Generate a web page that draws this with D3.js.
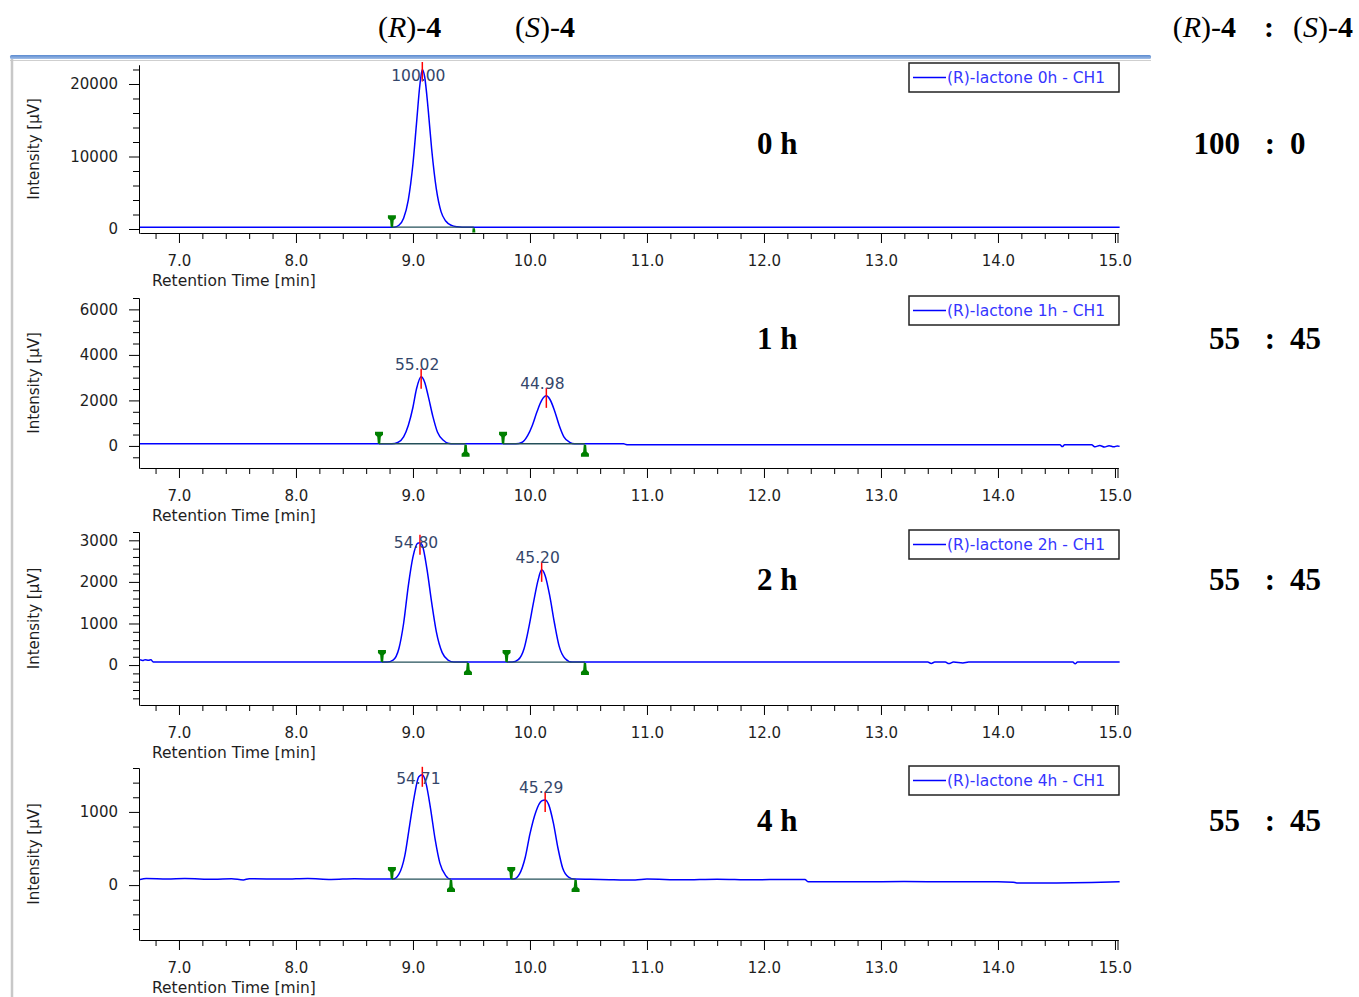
<!DOCTYPE html>
<html>
<head>
<meta charset="utf-8">
<script src="https://cdn.jsdelivr.net/npm/d3@7"></script>
<style>
  body { margin: 0; background: #fff; }
  svg { display: block; }
</style>
</head>
<body>
<svg id="chart" width="1359" height="997"></svg>
<script>
// values
const hours = ["0 h", "1 h", "2 h", "4 h"];
const legendNames = ["(R)-lactone 0h - CH1", "(R)-lactone 1h - CH1", "(R)-lactone 2h - CH1", "(R)-lactone 4h - CH1"];
const ratioR = [100, 55, 55, 55];
const ratioS = [0, 45, 45, 45];

const xMajorTicks = [7, 8, 9, 10, 11, 12, 13, 14, 15];
const yDomains = [[-550, 22620], [-970, 6500], [-960, 3200], [-750, 1600]];
const yMajorStep = [10000, 2000, 1000, 1000];
const yMinorStep = [2000, 500, 200, 200];

// [retention time (min), intensity (µV)]
const trace0h = [
  [6.667, 250], [8.84, 250], [8.88, 520], [8.92, 1500], [8.96, 4000], [9.00, 9000], [9.03, 14500],
  [9.06, 20000], [9.08, 22000], [9.10, 21000], [9.13, 16500], [9.16, 11000], [9.20, 5500],
  [9.24, 2400], [9.28, 1100], [9.33, 500], [9.38, 300], [9.42, 250], [15.04, 250]
];
const trace1h = [
  [6.667, 95], [8.82, 95], [8.87, 150], [8.92, 400], [8.96, 900], [9.00, 1700], [9.03, 2500],
  [9.07, 3040], [9.10, 2800], [9.13, 2200], [9.17, 1300], [9.21, 600], [9.26, 250], [9.30, 120],
  [9.35, 95], [9.88, 95], [9.93, 150], [9.98, 450], [10.02, 900], [10.06, 1500], [10.10, 2000],
  [10.14, 2200], [10.17, 2050], [10.21, 1550], [10.25, 900], [10.29, 400], [10.34, 160], [10.38, 95],
  [10.80, 95], [10.82, 60], [10.84, 50], [14.53, 50], [14.55, -30], [14.57, 50], [14.80, 50],
  [14.83, -40], [14.87, 20], [14.91, -50], [14.95, 10], [14.99, -40], [15.02, 0], [15.04, -20]
];
const trace2h = [
  [6.667, 130], [6.69, 110], [6.71, 130], [6.74, 115], [6.76, 130], [6.78, 75], [8.78, 72],
  [8.83, 120], [8.88, 400], [8.92, 1000], [8.96, 1900], [9.00, 2600], [9.04, 2930], [9.06, 2940],
  [9.08, 2880], [9.12, 2300], [9.16, 1500], [9.20, 800], [9.25, 300], [9.30, 120], [9.35, 72],
  [9.85, 72], [9.90, 130], [9.95, 400], [9.99, 900], [10.03, 1500], [10.07, 2050], [10.10, 2290],
  [10.13, 2150], [10.17, 1650], [10.21, 1000], [10.25, 450], [10.30, 160], [10.36, 72],
  [13.40, 72], [13.43, 40], [13.46, 72], [13.55, 72], [13.58, 35], [13.62, 72], [13.70, 50],
  [13.75, 72], [14.64, 72], [14.66, 30], [14.68, 72], [15.04, 72]
];
const trace4h = [
  [6.667, 75], [6.72, 90], [6.9, 85], [7.05, 90], [7.3, 80], [7.45, 88], [7.55, 70], [7.6, 88],
  [7.9, 82], [8.1, 90], [8.3, 78], [8.5, 88], [8.7, 82], [8.83, 82], [8.88, 150], [8.93, 400],
  [8.97, 800], [9.01, 1200], [9.05, 1480], [9.08, 1507], [9.11, 1400], [9.15, 1050], [9.19, 620],
  [9.23, 300], [9.28, 130], [9.32, 82], [9.86, 82], [9.91, 150], [9.96, 380], [10.00, 700],
  [10.05, 1000], [10.10, 1150], [10.13, 1164], [10.16, 1100], [10.20, 850], [10.24, 500],
  [10.28, 230], [10.33, 110], [10.38, 82], [10.6, 78], [10.9, 70], [11.0, 82], [11.3, 72],
  [11.6, 80], [11.9, 72], [12.2, 78], [12.35, 75], [12.38, 45], [12.8, 45], [13.2, 48], [13.6, 45],
  [14.0, 45], [14.13, 40], [14.16, 30], [14.5, 30], [14.8, 35], [15.04, 45]
];
const traces = [trace0h, trace1h, trace2h, trace4h];

const peakTimes = [[9.08], [9.07, 10.14], [9.06, 10.10], [9.08, 10.13]];
const peakAreas = [["100.00"], ["55.02", "44.98"], ["54.80", "45.20"], ["54.71", "45.29"]];
const peakStarts = [[8.82], [8.71, 9.77], [8.735, 9.80], [8.82, 9.84]];
const peakEnds = [[9.52], [9.45, 10.47], [9.47, 10.47], [9.325, 10.39]];
const baselineLevel = [250, 95, 72, 82];

// layout
const axisTop = [65, 298, 532, 768];
const axisBottom = [233, 468, 705, 940];
const hourLabelY = [154, 349, 590, 831];
const uiFont = '"DejaVu Sans", Verdana, sans-serif';
const serif = '"Liberation Serif", "Times New Roman", serif';

const svg = d3.select("#chart");

// window frame
const grad = svg.append("defs").append("linearGradient")
  .attr("id", "bar").attr("x1", 0).attr("x2", 0).attr("y1", 0).attr("y2", 1);
grad.append("stop").attr("offset", "0%").attr("stop-color", "#5a8ad0");
grad.append("stop").attr("offset", "100%").attr("stop-color", "#a3bfe6");
svg.append("rect").attr("x", 10).attr("y", 55).attr("width", 1141).attr("height", 4)
  .attr("rx", 1.5).attr("fill", "url(#bar)");
svg.append("line").attr("x1", 10).attr("x2", 1151).attr("y1", 60.5).attr("y2", 60.5)
  .attr("stroke", "#cfcfcf");
svg.append("line").attr("x1", 12).attr("x2", 12).attr("y1", 59).attr("y2", 997)
  .attr("stroke", "#c8c8c8").attr("stroke-width", 2.5);

const x = d3.scaleLinear().domain([6.667, 15.026]).range([140, 1118]);

traces.forEach((trace, i) => {
  const g = svg.append("g");
  const y = d3.scaleLinear().domain(yDomains[i]).range([axisBottom[i], axisTop[i]]);

  const [d0, d1] = yDomains[i];
  const majors = d3.range(0, d1 + 1, yMajorStep[i]);
  const minors = d3.range(Math.ceil(d0 / yMinorStep[i]) * yMinorStep[i], d1 + 1, yMinorStep[i])
    .filter(v => v % yMajorStep[i] !== 0);

  // y axis
  g.append("g").attr("transform", "translate(139,0)")
    .call(d3.axisLeft(y).tickValues(minors).tickSize(6).tickSizeOuter(0).tickFormat(""));
  g.append("g").attr("transform", "translate(139,0)")
    .call(d3.axisLeft(y).tickValues(majors).tickSize(10).tickSizeOuter(0).tickPadding(11)
      .tickFormat(d3.format("d")))
    .attr("font-family", uiFont).attr("font-size", 15)
    .call(s => s.selectAll("text").attr("fill", "#1e1e1e"));

  // x axis
  const xMinors = d3.range(34, 76).filter(k => k % 5 !== 0).map(k => k / 5);
  g.append("g").attr("transform", `translate(0,${axisBottom[i]})`)
    .call(d3.axisBottom(x).tickValues(xMinors).tickSize(6).tickSizeOuter(0).tickFormat(""));
  g.append("g").attr("transform", `translate(0,${axisBottom[i]})`)
    .call(d3.axisBottom(x).tickValues(xMajorTicks).tickSize(10).tickSizeOuter(0)
      .tickPadding(12).tickFormat(d3.format(".1f")))
    .attr("font-family", uiFont).attr("font-size", 15)
    .call(s => s.selectAll("text").attr("fill", "#1e1e1e"));
  g.append("line").attr("x1", 1118).attr("x2", 1118)
    .attr("y1", axisBottom[i]).attr("y2", axisBottom[i] + 10).attr("stroke", "#000");

  g.append("text").attr("x", 152).attr("y", axisBottom[i] + 53)
    .attr("font-family", uiFont).attr("font-size", 15.5).attr("fill", "#1e1e1e")
    .text("Retention Time [min]");
  g.append("text")
    .attr("transform", `translate(39,${(axisTop[i] + axisBottom[i]) / 2}) rotate(-90)`)
    .attr("text-anchor", "middle")
    .attr("font-family", uiFont).attr("font-size", 15).attr("fill", "#1e1e1e")
    .text("Intensity [µV]");

  // plot area
  g.append("clipPath").attr("id", "clip" + i).append("rect")
    .attr("x", 140).attr("y", axisTop[i]).attr("width", 982).attr("height", axisBottom[i] - axisTop[i] - 0.5);
  const plot = g.append("g").attr("clip-path", `url(#clip${i})`);

  const line = d3.line().x(d => x(d[0])).y(d => y(d[1])).curve(d3.curveMonotoneX);
  plot.append("path").datum(trace)
    .attr("fill", "none").attr("stroke", "#0000ff").attr("stroke-width", 1.5)
    .attr("d", line);

  const by = y(baselineLevel[i]);
  peakTimes[i].forEach((t, k) => {
    // integration baseline
    plot.append("line")
      .attr("x1", x(peakStarts[i][k])).attr("x2", x(peakEnds[i][k]))
      .attr("y1", by).attr("y2", by)
      .attr("stroke", "#24505a").attr("stroke-width", 1.3);
    // peak start / end markers
    plot.append("path")
      .attr("transform", `translate(${x(peakStarts[i][k])},${by})`)
      .attr("d", "M-1.2,0 L1.2,0 L1.8,-7 L4,-9 L4,-12 L-4,-12 L-4,-9 L-1.8,-7 Z")
      .attr("fill", "#008000");
    plot.append("path")
      .attr("transform", `translate(${x(peakEnds[i][k])},${by + 1})`)
      .attr("d", "M-1.2,0 L1.2,0 L1.8,7 L4,9 L4,12 L-4,12 L-4,9 L-1.8,7 Z")
      .attr("fill", "#008000");

    const apex = d3.max(trace.filter(d => Math.abs(d[0] - t) < 0.03), d => d[1]);
    const ay = y(apex);
    g.append("line").attr("x1", x(t)).attr("x2", x(t))
      .attr("y1", Math.max(ay - 8, axisTop[i] - 3)).attr("y2", ay + 12)
      .attr("stroke", "#ff0000").attr("stroke-width", 1.5);
    g.append("text")
      .attr("x", x(t) - 4).attr("y", Math.max(ay - 12, axisTop[i] + 10))
      .attr("dy", "0.36em").attr("text-anchor", "middle")
      .attr("font-family", uiFont).attr("font-size", 15.5).attr("fill", "#34466a")
      .text(peakAreas[i][k]);
  });

  // legend
  const lg = g.append("g").attr("transform", `translate(909,${axisTop[i] - 2})`);
  lg.append("rect").attr("width", 210).attr("height", 29)
    .attr("fill", "#fff").attr("stroke", "#222").attr("stroke-width", 1.5);
  lg.append("line").attr("x1", 4).attr("x2", 37).attr("y1", 14.5).attr("y2", 14.5)
    .attr("stroke", "#0000ff").attr("stroke-width", 1.5);
  lg.append("text").attr("x", 38).attr("y", 14.5).attr("dy", "0.36em")
    .attr("font-family", uiFont).attr("font-size", 15.5).attr("fill", "#3535ff")
    .text(legendNames[i]);

  // time and ratio annotations
  const big = { "font-family": serif, "font-size": 31, "font-weight": "bold", fill: "#000" };
  const put = (tx, ty, anchor, str) => {
    const t = g.append("text").attr("x", tx).attr("y", ty).attr("text-anchor", anchor).text(str);
    Object.entries(big).forEach(([k, v]) => t.attr(k, v));
  };
  put(757, hourLabelY[i], "start", hours[i]);
  put(1240, hourLabelY[i], "end", ratioR[i]);
  put(1270, hourLabelY[i], "middle", ":");
  put(1290, hourLabelY[i], "start", ratioS[i]);
});

// compound headers
function compound(tx, anchor, letter) {
  const t = svg.append("text").attr("x", tx).attr("y", 37).attr("text-anchor", anchor)
    .attr("font-family", serif).attr("font-size", 30).attr("fill", "#000");
  t.append("tspan").text("(");
  t.append("tspan").attr("font-style", "italic").text(letter);
  t.append("tspan").text(")-");
  t.append("tspan").attr("font-weight", "bold").text("4");
}
compound(378, "start", "R");
compound(515, "start", "S");
compound(1236, "end", "R");
compound(1293, "start", "S");
svg.append("text").attr("x", 1269).attr("y", 37).attr("text-anchor", "middle")
  .attr("font-family", serif).attr("font-size", 30).attr("font-weight", "bold").text(":");
</script>
</body>
</html>
